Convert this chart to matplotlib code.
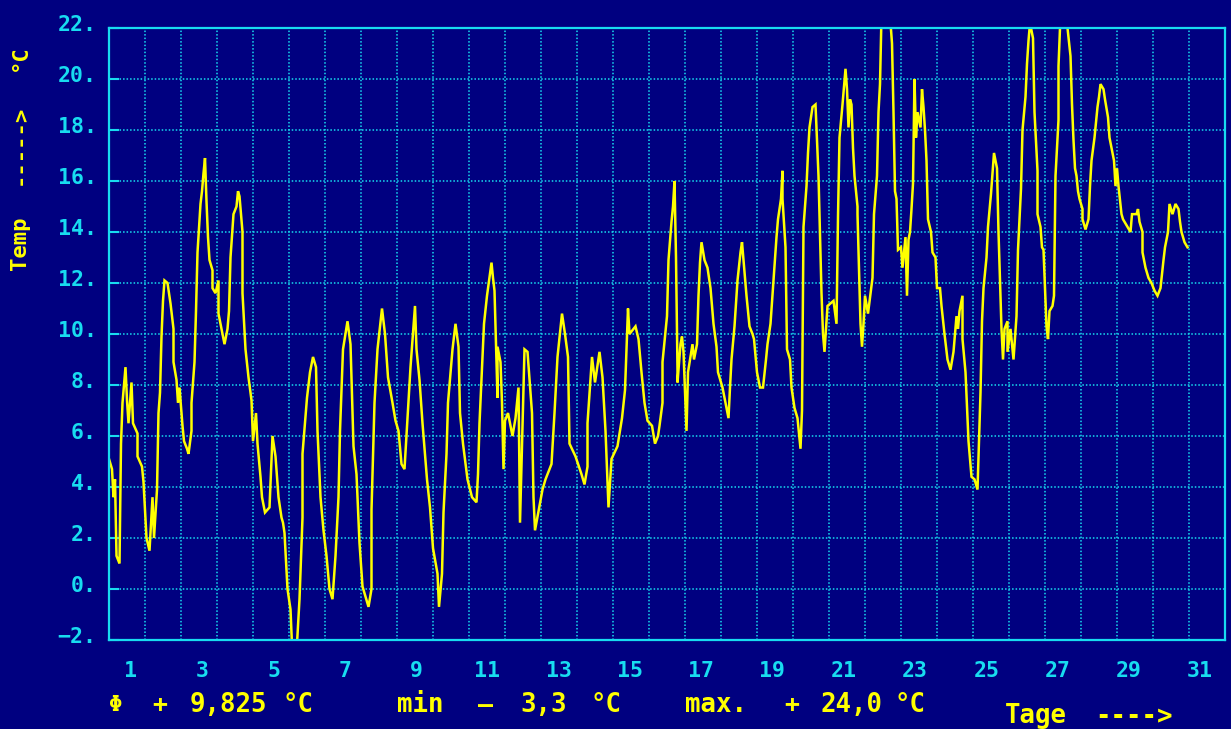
import matplotlib
matplotlib.use("Agg")
import matplotlib.pyplot as plt
from matplotlib.transforms import ScaledTranslation

# ---------------- data (hours since start of month, temperature in °C) ----------------
hours = [
    0, 2, 3, 4, 5, 7, 8, 9, 11, 12,
    13, 15, 16, 19, 19, 22, 23, 25, 27, 29,
    30, 32, 33, 34, 35, 36, 37, 39, 41, 43,
    43, 45, 46, 47, 49, 50, 52, 53, 55, 55,
    57, 58, 59, 61, 62, 63, 64, 65, 66, 67,
    69, 69, 71, 73, 73, 75, 77, 79, 80, 81,
    83, 85, 86, 87, 89, 89, 91, 93, 95, 96,
    98, 99, 101, 102, 104, 107, 109, 111, 113, 115,
    116, 117, 119, 121, 122, 123, 125, 127, 129, 129,
    132, 134, 136, 138, 139, 141, 143, 145, 147, 149,
    151, 153, 154, 156, 159, 161, 163, 165, 167, 169,
    173, 175, 175, 177, 179, 182, 184, 186, 189, 191,
    193, 195, 197, 199, 201, 204, 205, 207, 209, 212,
    214, 216, 219, 220, 222, 223, 225, 226, 229, 231,
    233, 234, 236, 239, 242, 245, 246, 247, 249, 250,
    252, 255, 256, 257, 259, 259, 261, 262, 263, 264,
    266, 269, 271, 273, 274, 277, 279, 282, 283, 284,
    289, 291, 295, 297, 299, 302, 304, 306, 307, 311,
    315, 317, 319, 319, 322, 324, 327, 329, 331, 333,
    335, 339, 342, 344, 346, 347, 351, 353, 355, 357,
    359, 362, 364, 366, 367, 369, 369, 372, 373, 375,
    376, 377, 378, 379, 379, 381, 382, 383, 384, 385,
    386, 389, 390, 392, 393, 394, 395, 397, 399, 401,
    403, 405, 406, 409, 411, 413, 414, 415, 417, 419,
    421, 422, 423, 425, 427, 429, 430, 432, 434, 436,
    438, 439, 441, 443, 445, 446, 448, 449, 449, 451,
    452, 454, 455, 457, 459, 460, 461, 462, 463, 465,
    466, 467, 469, 471, 473, 475, 476, 477, 479, 483,
    485, 486, 487, 489, 491, 492, 493, 494, 495, 496,
    497, 499, 499, 501, 502, 503, 504, 506, 509, 510,
    512, 513, 514, 515, 517, 519, 521, 522, 523, 524,
    525, 526, 528, 529, 531, 532, 533, 534, 535, 536,
    537, 538, 539, 541, 542, 543, 544, 545, 546, 548,
    549, 551, 552, 554, 555, 557, 559, 561, 563, 565,
    566, 567, 569, 569, 571, 573, 574, 575, 577, 579,
    581, 582, 583, 585, 586, 588, 589, 590, 592, 593,
    595, 596, 597, 599, 599, 601, 603, 605, 606, 608,
    609, 611, 612, 613, 614, 616, 617, 619, 619, 621,
    622, 623, 625, 626, 627, 629, 630, 631, 633, 633,
    634, 636, 638, 639, 641, 642, 643, 644, 645, 646,
    647, 649, 649, 651, 653, 654, 655, 657, 659, 660,
    661, 663, 664, 666, 667, 669, 670, 671, 672, 673,
    675, 676, 679, 681, 682, 685, 686, 687, 689, 689,
    691, 693, 695, 697, 699, 701, 703, 704, 706, 707,
    709, 711, 713, 714, 715, 717, 719,
]

temps = [
    5.1, 4.7, 3.6, 4.3, 1.3, 1.0, 5.7, 7.3, 8.7, 7.4,
    6.5, 8.1, 6.5, 6.1, 5.2, 4.8, 4.2, 2.0, 1.5, 3.6,
    2.0, 3.9, 6.9, 7.7, 9.9, 11.3, 12.1, 12.0, 11.2, 10.2,
    8.9, 8.2, 7.3, 7.9, 6.4, 5.8, 5.5, 5.3, 6.2, 7.3,
    8.9, 10.9, 13.2, 15.1, 15.6, 16.3, 16.9, 15.2, 13.8, 12.9,
    12.5, 11.8, 11.6, 12.1, 10.8, 10.2, 9.6, 10.2, 10.9, 13.0,
    14.7, 15.0, 15.6, 15.4, 14.0, 11.6, 9.4, 8.3, 7.4, 5.8,
    6.9, 5.7, 4.4, 3.6, 3.0, 3.2, 6.0, 5.2, 3.6, 2.8,
    2.6, 2.2, 0.0, -0.8, -2.2, -3.3, -2.5, -0.4, 2.8, 5.3,
    7.5, 8.5, 9.1, 8.7, 6.2, 3.6, 2.3, 1.3, 0.0, -0.4,
    1.3, 3.6, 6.2, 9.4, 10.5, 9.6, 5.6, 4.5, 1.8, 0.1,
    -0.7, 0.0, 3.1, 7.3, 9.4, 11.0, 10.0, 8.3, 7.3, 6.6,
    6.2, 4.9, 4.7, 6.7, 8.7, 11.1, 9.4, 8.2, 6.5, 4.3,
    3.2, 1.6, 0.6, -0.7, 0.6, 3.0, 5.3, 7.3, 9.4, 10.4,
    9.5, 6.9, 5.7, 4.3, 3.6, 3.4, 4.5, 6.5, 9.1, 10.4,
    11.5, 12.8, 12.2, 11.7, 7.5, 9.5, 8.9, 7.3, 4.7, 6.6,
    6.9, 6.0, 6.7, 7.9, 2.6, 9.4, 9.3, 6.9, 3.6, 2.3,
    3.9, 4.3, 4.9, 6.9, 9.1, 10.8, 10.0, 9.1, 5.7, 5.2,
    4.5, 4.1, 4.8, 6.5, 9.1, 8.1, 9.3, 8.3, 6.2, 3.2,
    5.1, 5.6, 6.7, 7.8, 11.0, 10.0, 10.3, 9.8, 8.5, 7.3,
    6.6, 6.4, 5.7, 6.0, 6.4, 7.3, 8.9, 10.7, 12.9, 14.4,
    15.0, 16.0, 13.0, 8.6, 8.1, 9.6, 9.9, 9.3, 7.7, 6.2,
    8.5, 9.6, 9.0, 9.6, 11.5, 12.8, 13.6, 12.9, 12.6, 11.8,
    10.4, 9.5, 8.5, 7.9, 7.3, 6.7, 7.9, 9.0, 10.3, 12.1,
    13.2, 13.6, 12.9, 11.5, 10.3, 10.0, 9.8, 8.5, 7.9, 7.9,
    9.0, 9.6, 10.4, 12.1, 13.8, 14.5, 15.3, 16.4, 15.3, 13.4,
    9.4, 9.0, 7.9, 7.1, 6.7, 6.1, 5.5, 7.0, 14.2, 15.8,
    17.1, 18.1, 18.9, 19.0, 16.2, 11.6, 10.0, 9.3, 11.1, 11.3,
    10.4, 14.6, 17.7, 19.0, 20.4, 19.6, 18.1, 19.2, 19.0, 17.3,
    16.2, 15.0, 14.7, 10.4, 9.5, 10.4, 11.5, 10.8, 12.2, 14.7,
    16.2, 18.7, 19.8, 22.5, 24.0, 23.0, 22.2, 21.4, 18.7, 15.6,
    15.3, 13.3, 13.4, 12.6, 13.8, 11.5, 13.7, 14.0, 14.9, 15.9,
    20.0, 17.7, 18.7, 18.1, 19.6, 18.9, 18.0, 16.8, 14.5, 14.0,
    13.2, 13.0, 11.8, 11.8, 11.1, 10.0, 9.0, 8.6, 9.3, 10.7,
    10.2, 10.9, 11.5, 9.8, 8.5, 5.8, 5.1, 4.4, 4.3, 3.9,
    7.7, 10.5, 11.8, 13.0, 14.2, 15.5, 16.3, 17.1, 16.5, 14.0,
    10.2, 9.0, 10.2, 10.5, 9.3, 10.2, 9.0, 10.7, 13.3, 15.7,
    18.0, 19.3, 20.6, 21.5, 22.2, 21.6, 18.7, 16.4, 14.7, 14.2,
    13.4, 13.3, 10.3, 9.8, 10.9, 11.1, 11.5, 16.2, 18.4, 20.5,
    22.0, 23.5, 23.0, 22.0, 20.9, 19.0, 17.6, 16.5, 16.2, 15.6,
    15.3, 14.9, 14.5, 14.1, 14.5, 15.8, 16.8, 17.7, 18.9, 19.3,
    19.8, 19.6, 19.2, 18.5, 17.7, 17.1, 16.8, 15.8, 16.5, 15.8,
    14.7, 14.5, 14.2, 14.0, 14.7, 14.7, 14.9, 14.4, 14.0, 13.2,
    12.6, 12.2, 12.0, 11.7, 11.5, 11.8, 12.9, 13.4, 14.0, 15.1,
    14.7, 15.1, 14.9, 14.4, 14.0, 13.6, 13.4,
]

day_labels = [1, 3, 5, 7, 9, 11, 13, 15, 17, 19, 21, 23, 25, 27, 29, 31]
temp_ticks = [-2, 0, 2, 4, 6, 8, 10, 12, 14, 16, 18, 20, 22]
temp_tick_labels = ["\u22122.", "0.", "2.", "4.", "6.", "8.", "10.", "12.",
                    "14.", "16.", "18.", "20.", "22."]
stat_mean = "9,825"
stat_min = "3,3"
stat_max = "24,0"

# ---------------- style ----------------
BG = "#000080"
CYAN = "#18DCF0"
YELLOW = "#FFFF00"
FONT = "DejaVu Sans Mono"

n = min(len(hours), len(temps))
days = [h / 24.0 for h in hours[:n]]
vals = temps[:n]

W, H = 1231, 729
fig = plt.figure(figsize=(W / 100, H / 100), dpi=100, facecolor=BG)
ax = fig.add_axes([109 / W, 1 - 640 / H, 1116 / W, 612 / H], facecolor=BG)

ax.set_xlim(0, 31)
ax.set_ylim(-2, 22)

# dotted grid
for d in range(1, 31):
    ax.axvline(d, color=CYAN, lw=1.1, ls=(0, (1, 1.3)), zorder=1)
for t in temp_ticks[1:-1]:
    ax.axhline(t, color=CYAN, lw=1.1, ls=(0, (1, 1.3)), zorder=1)

ax.plot(days, vals, color=YELLOW, lw=1.8, zorder=3, solid_joinstyle="miter")

for s in ax.spines.values():
    s.set_color(CYAN)
    s.set_linewidth(1.6)
    s.set_zorder(4)

# y ticks
ax.set_yticks(temp_ticks)
ax.set_yticklabels(temp_tick_labels)
ax.tick_params(axis="y", direction="in", length=7, width=1.5, color=CYAN,
               labelcolor=CYAN, pad=9, labelsize=15.5)
off = ScaledTranslation(0, 0.05, fig.dpi_scale_trans)
for lab in ax.get_yticklabels():
    lab.set_fontfamily(FONT)
    lab.set_fontweight("bold")
    lab.set_transform(lab.get_transform() + off)

# x ticks (labels sit slightly left of day lines)
xpos = [0.61 + 0.99 * (d - 1) for d in day_labels]
ax.set_xticks(xpos)
ax.set_xticklabels([str(d) for d in day_labels])
ax.tick_params(axis="x", length=0, labelcolor=CYAN, pad=15, labelsize=15.5)
for lab in ax.get_xticklabels():
    lab.set_fontfamily(FONT)
    lab.set_fontweight("bold")


def ftext(x, y, s, **kw):
    fig.text(x / W, 1 - y / H, s, color=YELLOW, family=FONT, weight="bold", **kw)


# y-axis caption (rotated)
ftext(20, 243, "Temp", rotation=90, ha="center", va="center", fontsize=16)
ftext(20, 145, "----->", rotation=90, ha="center", va="center", fontsize=16)
ftext(20, 58, "\u00b0C", rotation=90, ha="center", va="center", fontsize=16)

# bottom statistics line
yb = 705
ftext(116, yb, "\u03a6", ha="center", va="center", fontsize=16)
ftext(160, yb, "+", ha="center", va="center", fontsize=18)
ftext(190, yb, stat_mean, ha="left", va="center", fontsize=18.5)
ftext(283, yb, "\u00b0C", ha="left", va="center", fontsize=18.5)
ftext(397, yb, "min", ha="left", va="center", fontsize=18.5)
ftext(485, yb, "\u2013", ha="center", va="center", fontsize=18)
ftext(520, yb, stat_min, ha="left", va="center", fontsize=18.5)
ftext(590, yb, "\u00b0C", ha="left", va="center", fontsize=18.5)
ftext(685, yb, "max.", ha="left", va="center", fontsize=18.5)
ftext(792, yb, "+", ha="center", va="center", fontsize=18)
ftext(820, yb, stat_max, ha="left", va="center", fontsize=18.5)
ftext(895, yb, "\u00b0C", ha="left", va="center", fontsize=18.5)
ftext(1005, 716, "Tage", ha="left", va="center", fontsize=18.5)
ftext(1095, 716, "---->", ha="left", va="center", fontsize=18.5)

fig.savefig("out.png", dpi=100, facecolor=BG)
